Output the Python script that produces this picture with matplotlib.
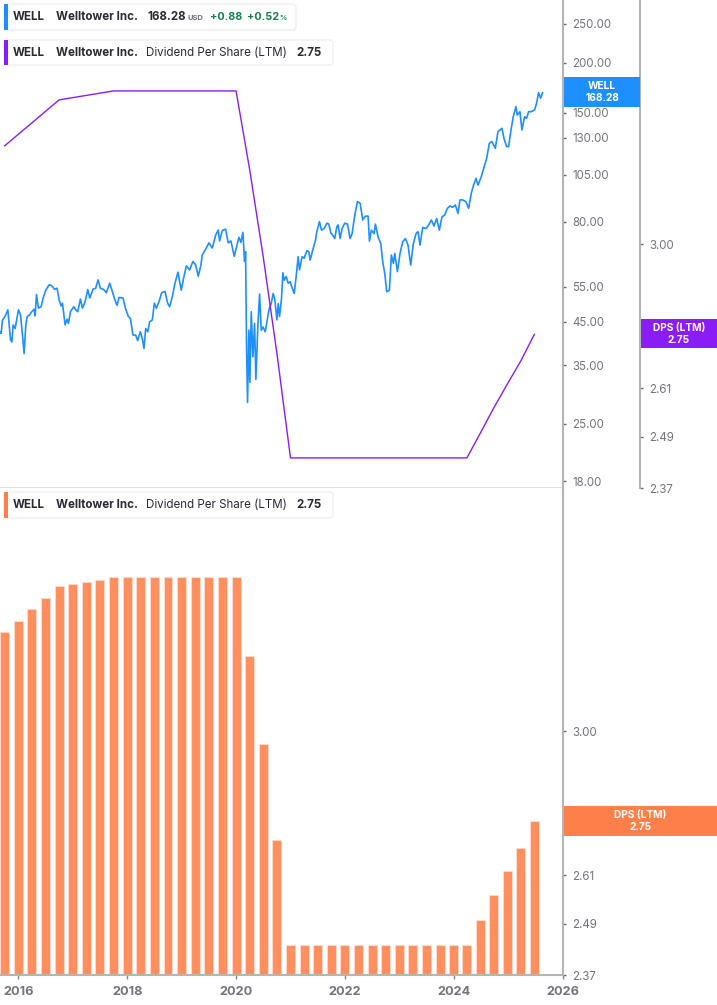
import numpy as np
import matplotlib
matplotlib.use('Agg')
import matplotlib.pyplot as plt
from matplotlib.patches import FancyBboxPatch, Rectangle

plt.rcParams['font.family'] = ['Inter', 'DejaVu Sans']

# WELL share price
price_years = [
    2015.661, 2015.685, 2015.710, 2015.747, 2015.771, 2015.808, 2015.832, 2015.857, 2015.881, 2015.906,
    2015.942, 2016.003, 2016.040, 2016.077, 2016.107, 2016.138, 2016.163, 2016.211, 2016.248, 2016.291,
    2016.309, 2016.334, 2016.370, 2016.419, 2016.456, 2016.505, 2016.566, 2016.615, 2016.664, 2016.713,
    2016.750, 2016.786, 2016.811, 2016.860, 2016.896, 2016.921, 2016.958, 2017.019, 2017.055, 2017.092,
    2017.141, 2017.178, 2017.227, 2017.276, 2017.312, 2017.373, 2017.422, 2017.465, 2017.508, 2017.569,
    2017.618, 2017.679, 2017.728, 2017.771, 2017.814, 2017.850, 2017.924, 2017.973, 2018.022, 2018.059,
    2018.107, 2018.156, 2018.193, 2018.242, 2018.279, 2018.309, 2018.340, 2018.377, 2018.413, 2018.462,
    2018.499, 2018.536, 2018.584, 2018.633, 2018.695, 2018.743, 2018.780, 2018.829, 2018.878, 2018.933,
    2018.964, 2018.994, 2019.037, 2019.086, 2019.147, 2019.208, 2019.257, 2019.306, 2019.355, 2019.379,
    2019.453, 2019.502, 2019.563, 2019.624, 2019.673, 2019.698, 2019.747, 2019.808, 2019.857, 2019.906,
    2019.967, 2020.052, 2020.089, 2020.126, 2020.156, 2020.175, 2020.193, 2020.211, 2020.236, 2020.254,
    2020.279, 2020.309, 2020.340, 2020.364, 2020.401, 2020.432, 2020.462, 2020.493, 2020.536, 2020.572,
    2020.603, 2020.645, 2020.682, 2020.713, 2020.750, 2020.774, 2020.799,
    2020.835, 2020.860, 2020.884, 2020.921, 2020.957, 2020.994, 2021.031, 2021.068, 2021.104, 2021.141,
    2021.165, 2021.214, 2021.251, 2021.300, 2021.337, 2021.361, 2021.410, 2021.459, 2021.483, 2021.532,
    2021.569, 2021.618, 2021.667, 2021.704, 2021.740, 2021.777, 2021.814, 2021.850, 2021.875, 2021.912,
    2021.948, 2021.997, 2022.046, 2022.095, 2022.132, 2022.181, 2022.230, 2022.279, 2022.327, 2022.376,
    2022.425, 2022.450, 2022.486, 2022.535, 2022.560, 2022.609, 2022.658, 2022.694, 2022.731, 2022.768,
    2022.817, 2022.853, 2022.890, 2022.915, 2022.964, 2023.012, 2023.061, 2023.110, 2023.159, 2023.208,
    2023.257, 2023.306, 2023.343, 2023.379, 2023.428, 2023.489, 2023.538, 2023.587, 2023.636, 2023.685,
    2023.734, 2023.783, 2023.832, 2023.881, 2023.930, 2023.979, 2024.028, 2024.077, 2024.113, 2024.162,
    2024.223, 2024.272, 2024.321, 2024.358, 2024.407, 2024.444, 2024.505, 2024.554, 2024.603, 2024.652,
    2024.701, 2024.762, 2024.811, 2024.884, 2024.921, 2024.970, 2025.006, 2025.055, 2025.092, 2025.141,
    2025.165, 2025.214, 2025.251, 2025.300, 2025.337, 2025.374, 2025.422, 2025.484, 2025.520, 2025.557,
    2025.594, 2025.630,
]
price_values = [
    42.5, 42.1, 45.5, 46.2, 46.9, 48.2, 44.2, 40.6, 40.1, 44.2,
    43.3, 48.2, 46.9, 41.7, 37.5, 44.2, 46.4, 46.9, 47.7, 48.4,
    46.6, 52.6, 48.7, 49.1, 51.6, 54.0, 55.7, 55.4, 54.3, 54.6,
    51.0, 49.3, 50.1, 44.2, 45.7, 44.6, 47.7, 49.1, 48.2, 47.7,
    51.3, 48.7, 50.5, 54.2, 51.6, 54.3, 54.6, 57.3, 54.6, 54.2,
    53.2, 56.2, 53.6, 51.2, 49.5, 51.8, 51.6, 48.4, 46.4, 45.9,
    41.7, 41.7, 40.4, 42.5, 40.8, 38.6, 43.3, 42.5, 45.0, 45.5,
    50.1, 48.7, 50.5, 53.2, 53.6, 50.1, 49.1, 52.0, 56.2, 59.9,
    56.7, 54.0, 57.9, 62.1, 60.7, 63.7, 62.5, 58.5, 62.5, 66.1,
    68.8, 70.9, 68.8, 74.0, 76.4, 71.7, 76.1, 76.7, 70.9, 71.7,
    65.6, 73.2, 71.1, 75.3, 63.7, 67.4, 39.0, 28.3, 42.9, 31.8,
    47.7, 36.8, 44.6, 32.3, 44.2, 52.8, 42.9, 43.7, 42.5, 45.5,
    48.2, 50.0, 53.0, 51.0, 45.5, 50.0, 46.4,
    51.5, 59.7, 57.2, 58.4, 56.2, 56.7, 54.6, 53.0, 58.4, 65.5,
    60.7, 65.5, 64.9, 67.8, 67.4, 64.2, 68.1, 72.0, 75.6, 80.1,
    76.3, 77.0, 79.4, 79.0, 75.1, 74.1, 72.7, 77.8, 78.6, 72.7,
    77.0, 79.4, 79.0, 72.7, 74.8, 83.2, 89.9, 89.1, 80.9, 82.7,
    82.7, 71.6, 76.3, 74.8, 79.0, 73.4, 70.6, 63.6, 59.5, 53.5,
    54.0, 66.1, 63.0, 66.7, 60.1, 66.7, 71.3, 72.7, 70.0, 62.4,
    70.6, 74.8, 75.6, 70.0, 77.5, 77.0, 78.6, 80.9, 78.1, 81.6,
    76.3, 82.4, 83.2, 86.5, 87.7, 87.0, 88.2, 84.0, 90.8, 90.8,
    89.9, 86.5, 94.3, 98.4, 102.8, 98.9, 103.8, 109.5, 115.3, 125.8,
    127.0, 122.2, 134.5, 137.1, 129.4, 123.4, 123.4, 137.1, 146.6, 155.3,
    148.0, 150.9, 135.8, 146.6, 145.2, 150.9, 150.9, 152.4, 158.4, 168.4,
    163.0, 168.28,
]

# quarterly dividend per share (LTM)
dps_years = [
    2015.75, 2016.00, 2016.25, 2016.50, 2016.75, 2017.00, 2017.25, 2017.50, 2017.75, 2018.00,
    2018.25, 2018.50, 2018.75, 2019.00, 2019.25, 2019.50, 2019.75, 2020.00, 2020.25, 2020.50,
    2020.75, 2021.00, 2021.25, 2021.50, 2021.75, 2022.00, 2022.25, 2022.50, 2022.75, 2023.00,
    2023.25, 2023.50, 2023.75, 2024.00, 2024.24, 2024.49, 2024.73, 2024.98, 2025.23, 2025.48,
]
dps_values = [
    3.30, 3.337, 3.374, 3.412, 3.45, 3.4575, 3.465, 3.4725, 3.48, 3.48,
    3.48, 3.48, 3.48, 3.48, 3.48, 3.48, 3.48, 3.48, 3.225, 2.963,
    2.70, 2.44, 2.44, 2.44, 2.44, 2.44, 2.44, 2.44, 2.44, 2.44,
    2.44, 2.44, 2.44, 2.44, 2.44, 2.50, 2.56, 2.62, 2.68, 2.75,
]

price_ticks = [18, 25, 35, 45, 55, 80, 105, 130, 150, 200, 250]
dps_ticks = [2.37, 2.49, 2.61, 3.00]
year_ticks = [2016, 2018, 2020, 2022, 2024, 2026]

BLUE = '#1e8fff'
PURPLE = '#8a1cf5'
ORANGE = '#ff8f5e'
ORANGE_TAG = '#ff7f4a'
AXIS = '#b5b5b5'
LABEL = '#74747c'
DARK = '#2a2a35'
GREEN = '#17804d'

W, H = 717, 1005


def panel(top, bottom):
    return [0, 1 - bottom / H, 563 / W, (bottom - top) / H]


def style_y(ax, ticks, fmt):
    ax.set_yscale('log')
    ax.yaxis.tick_right()
    ax.set_yticks(ticks)
    ax.set_yticklabels([fmt % t for t in ticks])
    ax.minorticks_off()
    ax.tick_params(axis='y', which='major', length=2, width=1, color='#666666',
                   labelcolor=LABEL, labelsize=8.3, pad=4.5)


fig = plt.figure(figsize=(W / 100, H / 100), dpi=100)

# top panel: price and DPS line
ax_price = fig.add_axes(panel(0, 488))
ax_dps = ax_price.twinx()
style_y(ax_price, price_ticks, '%.2f')
ax_price.set_xlim(2015.664, 2026.0055)
ax_price.set_ylim(17.29, 287)
ax_price.set_xticks([])
for side in ['left', 'top']:
    ax_price.spines[side].set_visible(False)
ax_price.spines['right'].set_color(AXIS)
ax_price.spines['right'].set_linewidth(1.5)
ax_price.spines['bottom'].set_color('#e2e2e2')
ax_price.spines['bottom'].set_linewidth(1.5)
ax_price.plot(price_years, price_values, color=BLUE, lw=1.2, zorder=2)

style_y(ax_dps, dps_ticks, '%.2f')
ax_dps.set_ylim(2.37, 3.80)
for side in ['left', 'top', 'bottom']:
    ax_dps.spines[side].set_visible(False)
ax_dps.spines['right'].set_position(('outward', 55.4))
ax_dps.spines['right'].set_color(AXIS)
ax_dps.spines['right'].set_linewidth(1.5)
ax_dps.plot(dps_years, dps_values, color=PURPLE, lw=1.0, zorder=3)

# bottom panel: DPS bars
ax_bar = fig.add_axes(panel(488, 975))
style_y(ax_bar, dps_ticks, '%.2f')
ax_bar.set_xlim(2015.664, 2026.0055)
ax_bar.set_ylim(2.37, 3.794)
ax_bar.bar(dps_years, np.array(dps_values) - 2.37, bottom=2.37, width=0.165,
           color=ORANGE, edgecolor='#ffdccd', linewidth=0.6)
for side in ['left', 'top']:
    ax_bar.spines[side].set_visible(False)
for side in ['right', 'bottom']:
    ax_bar.spines[side].set_color(AXIS)
    ax_bar.spines[side].set_linewidth(1.5)
ax_bar.set_xticks(year_ticks)
ax_bar.set_xticklabels([str(y) for y in year_ticks], fontweight='bold')
ax_bar.tick_params(axis='x', length=3, width=1, color='#888888', labelcolor=LABEL,
                   labelsize=9.2, pad=5)

# legends and value tags, in pixel coordinates
over = fig.add_axes([0, 0, 1, 1], zorder=10)
over.set_xlim(0, W)
over.set_ylim(H, 0)
over.axis('off')
over.patch.set_alpha(0)


def legend_box(x0, y0, x1, y1, color):
    over.add_patch(FancyBboxPatch((x0, y0), x1 - x0, y1 - y0, boxstyle='round,pad=0,rounding_size=3',
                                  fc='white', ec='#ececec', lw=0.8))
    over.add_patch(Rectangle((x0, y0), 4, y1 - y0, fc=color, ec='none'))


def legend_text(x, y, s, size=8.3, weight='bold', color=DARK):
    over.text(x, y, s, fontsize=size, fontweight=weight, color=color, va='center', ha='left')


def dps_legend(y0, y1, color):
    legend_box(4, y0, 333, y1, color)
    yc = (y0 + y1) / 2
    legend_text(13, yc, 'WELL')
    legend_text(56, yc, 'Welltower Inc.')
    legend_text(146, yc, 'Dividend Per Share (LTM)', weight='normal')
    legend_text(296, yc, '2.75')


legend_box(4, 4, 296, 30, BLUE)
legend_text(13, 17, 'WELL')
legend_text(56, 17, 'Welltower Inc.')
legend_text(147, 17, '168.28')
legend_text(187, 18, 'USD', size=5.4, color=LABEL)
legend_text(210, 17, '+0.88', size=7.8, color=GREEN)
legend_text(247, 17, '+0.52', size=7.8, color=GREEN)
legend_text(279, 18, '%', size=5.2, color=GREEN)
dps_legend(40, 65, PURPLE)
dps_legend(492, 518, ORANGE_TAG)


def value_tag(x0, x1, y0, y1, color, name, value):
    over.add_patch(Rectangle((x0, y0), x1 - x0, y1 - y0, fc=color, ec='none'))
    xc = (x0 + x1) / 2
    over.text(xc, y0 + 9, name, fontsize=7.3, fontweight='bold', color='white', ha='center', va='center')
    over.text(xc, y0 + 20.5, value, fontsize=7.3, fontweight='bold', color='white', ha='center', va='center')


value_tag(564, 640, 77, 107, BLUE, 'WELL', '168.28')
value_tag(641, 717, 319, 348, PURPLE, 'DPS (LTM)', '2.75')
value_tag(564, 717, 806, 836, ORANGE_TAG, 'DPS (LTM)', '2.75')

fig.savefig('out.png', dpi=100)
